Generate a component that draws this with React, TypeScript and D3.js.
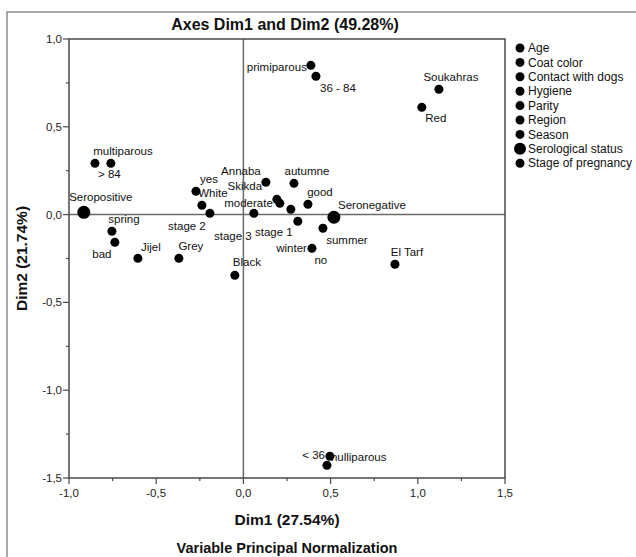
import React from "react";
import * as d3 from "d3";

// ---- data ----
const categories = [
  "Seropositive", "multiparous", "> 84", "spring", "bad", "Jijel", "Grey", "yes", "White",
  "stage 2", "stage 3", "Black", "Annaba", "Skikda", "moderate", "autumne", "good",
  "stage 1", "no", "winter", "summer", "Seronegative", "El Tarf", "Soukahras", "Red",
  "primiparous", "36 - 84", "nulliparous", "< 36",
];
const variableOf = [
  "Serological status", "Parity", "Age", "Season", "Hygiene", "Region", "Coat color", "Contact with dogs", "Coat color",
  "Stage of pregnancy", "Stage of pregnancy", "Coat color", "Region", "Region", "Hygiene", "Season", "Hygiene",
  "Stage of pregnancy", "Contact with dogs", "Season", "Season", "Serological status", "Region", "Region", "Coat color",
  "Parity", "Age", "Parity", "Age",
];
const dim1 = [
  -0.915, -0.851, -0.760, -0.754, -0.737, -0.605, -0.370, -0.272, -0.238,
  -0.192, 0.060, -0.049, 0.129, 0.192, 0.209, 0.290, 0.370,
  0.272, 0.312, 0.393, 0.456, 0.519, 0.869, 1.121, 1.023,
  0.387, 0.416, 0.496, 0.479,
];
const dim2 = [
  0.013, 0.292, 0.292, -0.095, -0.158, -0.249, -0.249, 0.133, 0.053,
  0.007, 0.007, -0.346, 0.184, 0.087, 0.064, 0.178, 0.059,
  0.030, -0.038, -0.192, -0.078, -0.015, -0.283, 0.714, 0.611,
  0.850, 0.788, -1.376, -1.428,
];
const legendItems = [
  "Age", "Coat color", "Contact with dogs", "Hygiene", "Parity", "Region", "Season",
  "Serological status", "Stage of pregnancy",
];
const xTicks = [-1.0, -0.5, 0.0, 0.5, 1.0, 1.5];
const yTicks = [1.0, 0.5, 0.0, -0.5, -1.0, -1.5];

// ---- label layout (offsets from the point, px) ----
const labelLayout: { dx: number; dy: number; anchor: string }[] = [
  { dx: 17, dy: -15, anchor: "middle" },
  { dx: 28, dy: -12, anchor: "middle" },
  { dx: -1.5, dy: 11, anchor: "middle" },
  { dx: 12, dy: -12, anchor: "middle" },
  { dx: -13, dy: 12, anchor: "middle" },
  { dx: 13, dy: -11, anchor: "middle" },
  { dx: 12, dy: -12, anchor: "middle" },
  { dx: 13, dy: -12, anchor: "middle" },
  { dx: 11, dy: -12, anchor: "middle" },
  { dx: -23, dy: 13, anchor: "middle" },
  { dx: -21, dy: 23, anchor: "middle" },
  { dx: 12, dy: -13, anchor: "middle" },
  { dx: -25, dy: -11, anchor: "middle" },
  { dx: -32, dy: -13, anchor: "middle" },
  { dx: -7, dy: 0, anchor: "end" },
  { dx: 13, dy: -12, anchor: "middle" },
  { dx: 12, dy: -12, anchor: "middle" },
  { dx: -17, dy: 23, anchor: "middle" },
  { dx: 23, dy: 39, anchor: "middle" },
  { dx: -5, dy: 0, anchor: "end" },
  { dx: 24, dy: 12, anchor: "middle" },
  { dx: 38, dy: -12, anchor: "middle" },
  { dx: 12, dy: -12, anchor: "middle" },
  { dx: 12, dy: -12, anchor: "middle" },
  { dx: 14, dy: 11, anchor: "middle" },
  { dx: -4, dy: 2, anchor: "end" },
  { dx: 22, dy: 12, anchor: "middle" },
  { dx: 1, dy: 1, anchor: "start" },
  { dx: -2, dy: -10, anchor: "end" },
];

const W = 636;
const H = 557;
const FONT = "'Liberation Sans', Arial, Helvetica, sans-serif";
const plot = { left: 69, right: 505, top: 39, bottom: 478 };

const fmt = (v: number) => d3.format(".1f")(v).replace(".", ",").replace("−", "-");

export default function App() {
  const x = d3.scaleLinear().domain([-1, 1.5]).range([plot.left, plot.right]);
  const y = d3.scaleLinear().domain([-1.5, 1]).range([plot.bottom, plot.top]);
  const minorX = d3.range(-1, 1.5001, 0.25);
  const minorY = d3.range(-1.5, 1.0001, 0.25);
  const axisColor = "#4a4a4a";
  const radius = (v: string) => (v === "Serological status" ? 6.5 : 4.5);
  const cx = (plot.left + plot.right) / 2;
  const cy = (plot.top + plot.bottom) / 2;

  return (
    <svg
      width={W}
      height={H}
      style={{ position: "absolute", left: 0, top: 0, background: "#fff" }}
      fontFamily={FONT}
    >
      <rect x={0} y={0} width={W} height={H} fill="#fff" />
      {/* outer frame */}
      <rect x={7} y={12} width={W} height={H} fill="none" stroke="#8c8c8c" strokeWidth={1.5} />

      {/* title */}
      <text x={cx - 2} y={30} textAnchor="middle" fontSize={16} fontWeight="bold" fill="#111">
        Axes Dim1 and Dim2 (49.28%)
      </text>

      {/* zero lines */}
      <line x1={x(0)} x2={x(0)} y1={plot.top} y2={plot.bottom} stroke="#6a6a6a" strokeWidth={1.5} />
      <line x1={plot.left} x2={plot.right} y1={y(0)} y2={y(0)} stroke="#6a6a6a" strokeWidth={1.5} />

      {/* plot box */}
      <rect
        x={plot.left}
        y={plot.top}
        width={plot.right - plot.left}
        height={plot.bottom - plot.top}
        fill="none"
        stroke={axisColor}
        strokeWidth={1.5}
      />

      {/* x ticks */}
      {minorX.map((t) => {
        const major = Math.abs(t * 2 - Math.round(t * 2)) < 1e-6;
        return (
          <line key={"xt" + t} x1={x(t)} x2={x(t)} y1={plot.bottom} y2={plot.bottom + (major ? 6 : 3)} stroke={axisColor} strokeWidth={1.2} />
        );
      })}
      {xTicks.map((t) => (
        <text key={"xl" + t} x={x(t)} y={497} textAnchor="middle" fontSize={11.5} fill="#222">
          {fmt(t)}
        </text>
      ))}

      {/* y ticks */}
      {minorY.map((t) => {
        const major = Math.abs(t * 2 - Math.round(t * 2)) < 1e-6;
        return (
          <line key={"yt" + t} x1={plot.left - (major ? 6 : 3)} x2={plot.left} y1={y(t)} y2={y(t)} stroke={axisColor} strokeWidth={1.2} />
        );
      })}
      {yTicks.map((t) => (
        <text key={"yl" + t} x={plot.left - 7} y={y(t)} dy="0.35em" textAnchor="end" fontSize={11.5} fill="#222">
          {fmt(t)}
        </text>
      ))}

      {/* axis titles */}
      <text x={cx} y={525} textAnchor="middle" fontSize={15.5} fontWeight="bold" fill="#111">
        Dim1 (27.54%)
      </text>
      <text
        transform={`translate(27, ${cy}) rotate(-90)`}
        textAnchor="middle"
        fontSize={15.5}
        fontWeight="bold"
        fill="#111"
      >
        Dim2 (21.74%)
      </text>
      <text x={cx} y={553} textAnchor="middle" fontSize={14.5} fontWeight="bold" fill="#111">
        Variable Principal Normalization
      </text>

      {/* points */}
      {categories.map((c, i) => (
        <circle key={"p" + i} cx={x(dim1[i])} cy={y(dim2[i])} r={radius(variableOf[i])} fill="#000" />
      ))}
      {categories.map((c, i) => (
        <text
          key={"t" + i}
          x={x(dim1[i]) + labelLayout[i].dx}
          y={y(dim2[i]) + labelLayout[i].dy}
          dy="0.35em"
          textAnchor={labelLayout[i].anchor}
          fontSize={11.5}
          fill="#111"
        >
          {c}
        </text>
      ))}

      {/* legend */}
      {legendItems.map((name, i) => {
        const ly = 48 + i * 14.4;
        return (
          <g key={"lg" + i}>
            <circle cx={520} cy={ly} r={name === "Serological status" ? 6 : 4.5} fill="#000" />
            <text x={528} y={ly} dy="0.35em" fontSize={12} fill="#111">
              {name}
            </text>
          </g>
        );
      })}
    </svg>
  );
}
